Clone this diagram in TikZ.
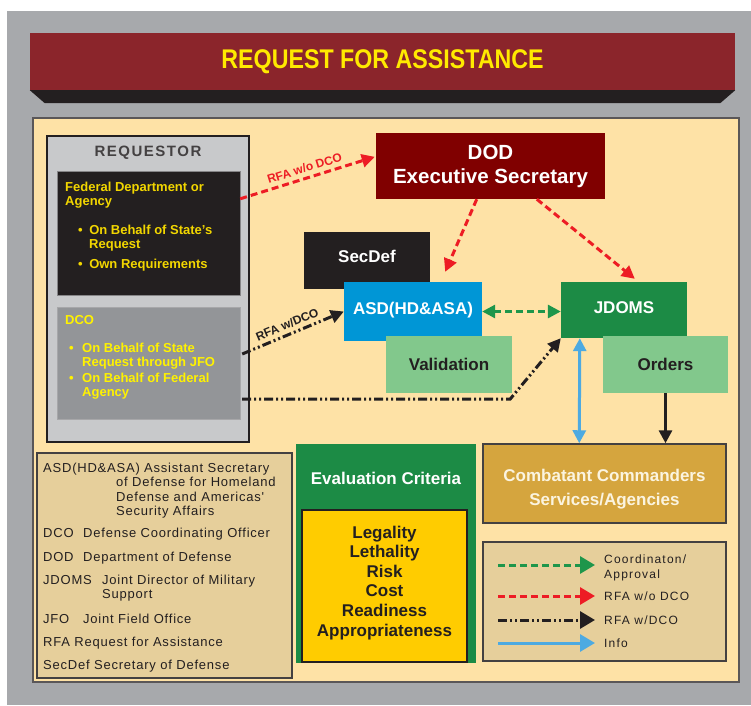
\documentclass[tikz,border=0pt]{standalone}
\usepackage{graphicx}
\usepackage{fontspec}
\setmainfont{Liberation Sans}
\newfontfamily\abbrfont[LetterSpace=6]{Liberation Sans}
\newfontfamily\legfont[LetterSpace=10]{Liberation Sans}
\newfontfamily\reqfont[LetterSpace=10]{Liberation Sans}
\usetikzlibrary{arrows.meta,calc,positioning}

\definecolor{bggray}{RGB}{167,169,172}
\definecolor{titlered}{RGB}{139,37,43}
\definecolor{titleyel}{RGB}{255,234,0}
\definecolor{ink}{RGB}{35,31,32}
\definecolor{panel}{RGB}{254,226,166}
\definecolor{reqgray}{RGB}{200,201,203}
\definecolor{dcogray}{RGB}{147,149,152}
\definecolor{fedyel}{RGB}{242,214,0}
\definecolor{dcoyel}{RGB}{255,242,0}
\definecolor{dodred}{RGB}{128,0,0}
\definecolor{asdblue}{RGB}{0,150,214}
\definecolor{dkgreen}{RGB}{28,139,69}
\definecolor{ltgreen}{RGB}{130,200,140}
\definecolor{ccgold}{RGB}{213,165,62}
\definecolor{ccwhite}{RGB}{251,244,224}
\definecolor{crityel}{RGB}{255,204,0}
\definecolor{legtan}{RGB}{230,207,155}
\definecolor{arrred}{RGB}{237,28,36}
\definecolor{arrgreen}{RGB}{30,150,75}
\definecolor{infoblue}{RGB}{77,170,225}

\begin{document}
\begin{tikzpicture}[x=1pt, y=-1pt,
    box/.style={inner sep=0pt, align=center, font=\bfseries\fontsize{17}{20}\selectfont},
    panelbox/.style={draw=ink, line width=1.5pt},
    bodytxt/.style={anchor=north west, inner sep=0pt, align=left, font=\bfseries\fontsize{13}{14}\selectfont},
    abbr/.style={anchor=north west, inner sep=0pt, align=left, text=ink, font=\abbrfont\fontsize{13}{14.3}\selectfont},
    legtxt/.style={anchor=west, inner sep=0pt, align=left, text=ink, font=\legfont\fontsize{12}{15}\selectfont},
    arrlbl/.style={sloped, above=4pt, inner sep=0pt, font=\bfseries\fontsize{12}{14}\selectfont},
    legtip/.style={arrows=-{Triangle[length=15pt,width=17pt]}}]
  \tikzstyle{rfaarr}=[draw=arrred, line width=3pt, dash pattern=on 7pt off 4pt, -{Triangle[length=13pt,width=13pt]}]
  \tikzstyle{coordarr}=[draw=arrgreen, line width=3pt, dash pattern=on 7pt off 4pt, {Triangle[length=13pt,width=13pt]}-{Triangle[length=13pt,width=13pt]}]
  \tikzstyle{dcoarr}=[draw=ink, line width=3pt, dash pattern=on 9pt off 3pt on 2pt off 3pt on 2pt off 3pt, -{Triangle[length=13pt,width=13pt]}]
  \tikzstyle{infoarr}=[draw=infoblue, line width=3pt, {Triangle[length=13pt,width=13pt]}-{Triangle[length=13pt,width=13pt]}]
  \tikzstyle{ordarr}=[draw=ink, line width=3pt, -{Triangle[length=13pt,width=13pt]}]

\useasboundingbox (0,0) rectangle (751,705);
\fill[white] (0,0) rectangle (751,705);
\fill[bggray] (7,11) rectangle (751,705);

% title bar
\node[box, fill=titlered, text=titleyel, minimum width=705, minimum height=57, font=\bfseries\fontsize{27}{30}\selectfont] (title) at (382.5,61.5) {\scalebox{0.86}[1]{REQUEST FOR ASSISTANCE}};
\fill[ink] (title.south west) -- (title.south east) -- ++(-15,13) -- ($(title.south west)+(15,13)$) -- cycle;

\node[panelbox, draw=ink!75, fill=panel, minimum width=706, minimum height=564] (panel) at (386,400) {};

% requestor
\node[panelbox, fill=reqgray, minimum width=202, minimum height=306] (req) at (148,289) {};
\node[inner sep=0pt, text=ink!85, font=\reqfont\bfseries\fontsize{15}{18}\selectfont, below=11pt of req.north] (req_title) {REQUESTOR};
\node[fill=ink, draw=reqgray!60!ink, minimum width=183, minimum height=124] (blk) at (148.5,233) {};
\node[bodytxt, text=fedyel] (blk_txt) at (65,182) {Federal Department or\\Agency\\[15pt]\hspace*{13pt}\textbullet\hspace{6.5pt}On Behalf of State's\\\hspace*{24pt}Request\\[6pt]\hspace*{13pt}\textbullet\hspace{6.5pt}Own Requirements};
\node[fill=dcogray, draw=reqgray!80!ink, minimum width=183, minimum height=112] (dco) at (148.5,363) {};
\node[bodytxt, text=dcoyel] (dco_txt) at (65,315) {DCO\\[14pt]\hspace*{4pt}\textbullet\hspace{8.5pt}On Behalf of State\\\hspace*{17pt}Request through JFO\\[2pt]\hspace*{4pt}\textbullet\hspace{8.5pt}On Behalf of Federal\\\hspace*{17pt}Agency};

% offices
\node[box, fill=dodred, text=white, minimum width=229, minimum height=66, font=\bfseries\fontsize{20.5}{24}\selectfont] (dod) at (490.5,166) {DOD\\Executive Secretary};
\node[box, fill=ink, text=white, minimum width=126, minimum height=57, text depth=8pt] (secdef) at (367,260.5) {SecDef};
\node[box, fill=asdblue, text=white, minimum width=138, minimum height=59, text depth=6pt] (asd) at (413,311.5) {ASD(HD\&ASA)};
\node[box, fill=ltgreen, text=ink, minimum width=126, minimum height=57] (valid) at (449,364.5) {Validation};
\node[box, fill=dkgreen, text=white, minimum width=126, minimum height=56, text depth=4pt] (jdoms) at (624,310) {JDOMS};
\node[box, fill=ltgreen, text=ink, minimum width=125, minimum height=57] (orders) at (665.5,364.5) {Orders};

\node[panelbox, draw=ink!85, fill=ccgold, minimum width=243, minimum height=79] (cc) at (604.5,483.5) {};
\node[box, text=ccwhite] (cc_txt) at (604.5,489.5) {Combatant Commanders\\[4pt]Services/Agencies};

% evaluation criteria
\node[fill=dkgreen, minimum width=180, minimum height=219] (evalc) at (386,553.5) {};
\node[box, text=white] (evalc_txt) at (386,478) {Evaluation Criteria};
\node[panelbox, fill=crityel, minimum width=165, minimum height=152] (crit) at (384.5,586) {};
\node[box, text=ink, font=\bfseries\fontsize{17}{19.6}\selectfont] (crit_txt) at (384.5,582.7) {Legality\\Lethality\\Risk\\Cost\\Readiness\\Appropriateness};

% legend
\node[panelbox, draw=ink!85, fill=legtan, minimum width=243, minimum height=119] (legend) at (604.5,601.5) {};
\node[legtxt] (lg_coord) at (604,567.7) {Coordinaton/\\Approval};
\node[legtxt] (lg_rfa) at (604,596) {RFA w/o DCO};
\node[legtxt] (lg_dco) at (604,620) {RFA w/DCO};
\node[legtxt] (lg_info) at (604,643) {Info};

% abbreviations
\node[panelbox, draw=ink!85, fill=legtan, minimum width=255, minimum height=225] (abbrev) at (164.5,565.5) {};
\node[abbr] (ab_asd) at (43,463) {ASD(HD\&ASA) Assistant Secretary\\\hspace*{73pt}of Defense for Homeland\\\hspace*{73pt}Defense and Americas'\\\hspace*{73pt}Security Affairs};
\node[abbr] (ab_dco) at (43,528) {\makebox[40pt][l]{DCO}Defense Coordinating Officer};
\node[abbr] (ab_dod) at (43,552) {\makebox[40pt][l]{DOD}Department of Defense};
\node[abbr] (ab_jdoms) at (43,575) {\makebox[59pt][l]{JDOMS}Joint Director of Military\\\hspace*{59pt}Support};
\node[abbr] (ab_jfo) at (43,614) {\makebox[40pt][l]{JFO}Joint Field Office};
\node[abbr] (ab_rfa) at (43,637) {RFA Request for Assistance};
\node[abbr] (ab_secdef) at (43,660) {SecDef Secretary of Defense};

% connectors
\draw[rfaarr] ($(blk.north east)+(0,28)$) -- ($(dod.north west)+(-1,24)$)
  node (rfa_lbl) [arrlbl, midway, text=arrred] {RFA w/o DCO};
\draw[rfaarr] ($(dod.south west)!0.44!(dod.south east)$) -- ($(asd.north east)+(-37,-10)$);
\draw[rfaarr] ($(dod.south west)+(161,0)$) -- ($(jdoms.north west)+(74,-3)$);
\draw[coordarr] (asd.east) -- (asd.east -| jdoms.west);
\draw[dcoarr] ([xshift=2pt,yshift=9pt]dco.east) -- (asd.west)
  node (dco_lbl) [arrlbl, pos=0.48, text=ink] {RFA w/DCO};
\draw[dcoarr] ([xshift=2pt,yshift=-36pt]dco.east) -- ++(268,0) -- (jdoms.south west);
\draw[infoarr] ($(jdoms.south west)+(19,0)$) -- ($(cc.north west)+(97,0)$);
\draw[ordarr] (orders.south) -- (orders.south |- cc.north);

\draw[coordarr, legtip] ($(lg_coord.west)+(-106,-2.7)$) -- ($(lg_coord.west)+(-9,-2.7)$);
\draw[rfaarr, legtip] ($(lg_rfa.west)+(-106,0)$) -- ($(lg_rfa.west)+(-9,0)$);
\draw[dcoarr, legtip] ($(lg_dco.west)+(-106,0)$) -- ($(lg_dco.west)+(-9,0)$);
\draw[infoarr, legtip] ($(lg_info.west)+(-106,0)$) -- ($(lg_info.west)+(-9,0)$);

\end{tikzpicture}
\end{document}
